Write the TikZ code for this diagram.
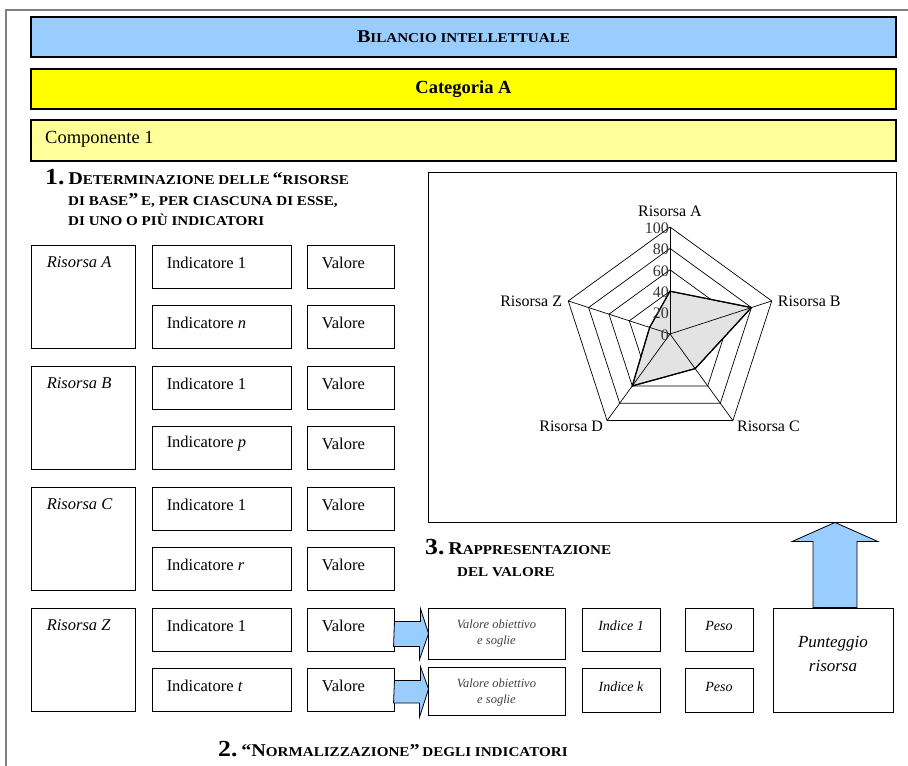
\documentclass[tikz,border=0pt]{standalone}
\usepackage{fontspec}
\setmainfont{Liberation Serif}
\newfontfamily\scfont[FakeStretch=1.12,Ligatures=TeX]{Liberation Serif}
\usetikzlibrary{calc,fit}
\definecolor{barblue}{HTML}{99CCFF}
\definecolor{baryellow}{HTML}{FFFF00}
\definecolor{paleyellow}{HTML}{FFFF99}
\definecolor{framegray}{HTML}{808080}
\definecolor{radargray}{HTML}{E3E3E3}
\tikzset{
  bar/.style={draw=black, line width=1.3pt, inner sep=0pt},
  box/.style={draw=black, line width=0.9pt, inner sep=0pt, fill=white},
  txt/.style={inner sep=0pt, font=\fontsize{16.5}{18}\selectfont},
  itxt/.style={inner sep=0pt, font=\fontsize{16.5}{18}\selectfont\itshape},
  stxt/.style={inner sep=0pt, font=\fontsize{14}{16}\selectfont\itshape},
  head/.style={inner sep=0pt, anchor=base west, font=\scfont\bfseries},
  blockarrow/.style={draw=black, line width=0.8pt, fill=barblue, line join=miter},
  ring/.style={draw=black, line width=0.7pt},
  axlbl/.style={inner sep=0pt, font=\fontsize{16}{18}\selectfont},
}
\newcommand{\bigc}[1]{{\fontsize{18}{20}\selectfont #1}}
\newcommand{\smc}[1]{{\fontsize{13.5}{15}\selectfont #1}}
\newcommand{\numc}[1]{{\fontsize{23}{24}\selectfont #1}}
\begin{document}
\begin{tikzpicture}[x=1pt,y=-1pt]
\useasboundingbox (0,0) rectangle (908,766);
% outer frame
\draw[framegray, line width=1.5pt] (6,766) -- (6,10) -- (908,10);

% header bars
\node[bar, fill=barblue, fit={(31,17) (896,57)}] (title) {};
\node[inner sep=0pt, font=\scfont\bfseries] (titletxt) at (title.center) {\bigc{B}\smc{ILANCIO INTELLETTUALE}};
\node[bar, fill=baryellow, fit={(31,69) (896,109)}] (cat) {};
\node[inner sep=0pt, font=\fontsize{18.5}{20}\selectfont\bfseries] (cattxt) at (cat.center) {Categoria A};
\node[bar, fill=paleyellow, fit={(31,120) (896,161)}] (comp) {};
\node[inner sep=0pt, anchor=west, font=\fontsize{18.5}{20}\selectfont] (comptxt) at (45,139) {Componente 1};

% heading 1
\node[head] (h1a) at (45,184) {\numc{1.} \bigc{D}\smc{ETERMINAZIONE DELLE} \bigc{“}\smc{RISORSE}};
\node[head] (h1b) at (68,205) {\smc{DI BASE}\bigc{”} \smc{E, PER CIASCUNA DI ESSE,}};
\node[head] (h1c) at (68,225) {\smc{DI UNO O PIÙ INDICATORI}};

% left column
\foreach \n/\t/\r/\k in {A/245/A/n, B/366/B/p, C/487/C/r, Z/608/Z/t}{
  \node[box, fit={(31,\t) (135,\t+103)}] (ris\n) {};
  \node[itxt, anchor=west] (ristxt\n) at ($(ris\n.north west)+(16,18)$) {Risorsa \r};
  \node[box, fit={(152,\t) (291,\t+43)}] (ind\n1) {};
  \node[txt, anchor=west] (indtxt\n1) at ($(ind\n1.north west)+(15,18)$) {Indicatore 1};
  \node[box, fit={(307,\t) (394,\t+43)}] (val\n1) {};
  \node[txt, anchor=west] (valtxt\n1) at ($(val\n1.north west)+(15,18)$) {Valore};
  \node[box, fit={(152,\t+60) (291,\t+103)}] (ind\n2) {};
  \node[txt, anchor=west] (indtxt\n2) at ($(ind\n2.north west)+(15,18)$) {Indicatore \textit{\k}};
  \node[box, fit={(307,\t+60) (394,\t+103)}] (val\n2) {};
  \node[txt, anchor=west] (valtxt\n2) at ($(val\n2.north west)+(15,18)$) {Valore};
}

% normalisation boxes
\node[box, fit={(428,608) (565,659)}] (obj1) {};
\node[inner sep=0pt, align=center, text=black!75, font=\fontsize{12.5}{16}\selectfont\itshape] (objtxt1) at ($(obj1.north)+(0,26)$) {Valore obiettivo\\e soglie};
\node[box, fit={(428,667) (565,715)}] (obj2) {};
\node[inner sep=0pt, align=center, text=black!75, font=\fontsize{12.5}{16}\selectfont\itshape] (objtxt2) at ($(obj2.north)+(0,26)$) {Valore obiettivo\\e soglie};
\node[box, fit={(582,608) (660,651)}] (idx1) {};
\node[stxt] (idxtxt1) at ($(idx1.north)+(0,18)$) {Indice 1};
\node[box, fit={(582,668) (660,712)}] (idx2) {};
\node[stxt] (idxtxt2) at ($(idx2.north)+(0,19)$) {Indice \textit{k}};
\node[box, fit={(685,608) (753,651)}] (peso1) {};
\node[stxt] (pesotxt1) at ($(peso1.north)+(0,18)$) {Peso};
\node[box, fit={(685,668) (753,712)}] (peso2) {};
\node[stxt] (pesotxt2) at ($(peso2.north)+(0,19)$) {Peso};
\node[box, fit={(773,608) (893,712)}] (punt) {};
\node[inner sep=0pt, align=center, font=\fontsize{17}{24}\selectfont\itshape] (punttxt) at ($(punt.center)+(0,-6)$) {Punteggio\\risorsa};

% right block arrows
\draw[blockarrow] ($(valZ1.east)+(0,-8)$) -- ++(26,0) -- ++(0,-13) -- ($(obj1.west)+(1,0)$) -- ++(-9,26) -- ++(0,-13) -- ++(-26,0) -- cycle;
\draw[blockarrow] ($(valZ2.east)+(0,-9)$) -- ++(26,0) -- ++(0,-14) -- ($(obj2.west)+(1,-2)$) -- ++(-9,28) -- ++(0,-14) -- ++(-26,0) -- cycle;

% heading 3
\node[head] (h3a) at (425,554) {\numc{3.} \bigc{R}\smc{APPRESENTAZIONE}};
\node[head] (h3b) at (457,576) {\smc{DEL VALORE}};

% heading 2
\node[head] (h2) at (218,756) {\numc{2.} \bigc{“N}\smc{ORMALIZZAZIONE}\bigc{”} \smc{DEGLI INDICATORI}};

% chart box
\node[box, fit={(428,172) (896,522)}] (chart) {};

% big up arrow
\coordinate (ptop) at ($(punt.north)+(2,0)$);
\coordinate (ctip) at (ptop |- chart.south);
\draw[blockarrow] ($(ptop)+(-22,0)$) -- ($(ptop)+(-22,-66)$) -- ($(ptop)+(-43,-66)$) -- (ctip) -- ($(ptop)+(43,-66)$) -- ($(ptop)+(22,-66)$) -- ($(ptop)+(22,0)$) -- cycle;

% radar chart
\begin{scope}[shift={(670,334)}]
  \coordinate (rc) at (0,0);
  \foreach \k in {1,...,5}{
    \draw[ring] (-90:21.4*\k) -- (-18:21.4*\k) -- (54:21.4*\k) -- (126:21.4*\k) -- (198:21.4*\k) -- cycle;
  }
  \draw[black, line width=1.1pt, fill=radargray] (-90:42.8) -- (-18:85.6) -- (54:42.8) -- (126:64.2) -- (198:21.4) -- cycle;
  \foreach \a in {-90,-18,54,126,198}{
    \draw[ring] (rc) -- (\a:107);
  }
  \draw[black, line width=1.1pt] (-90:42.8) -- (-18:85.6) -- (54:42.8) -- (126:64.2) -- (198:21.4) -- cycle;
  \foreach \v in {0,20,40,60,80,100}{
    \node[axlbl, anchor=east, text=black!80] (ax\v) at (-1,-1.07*\v+1) {\v};
  }
  \node[axlbl, anchor=south] (rlA) at (0,-117) {Risorsa A};
  \node[axlbl, anchor=west] (rlB) at ($(-18:107)+(6,0)$) {Risorsa B};
  \node[axlbl, anchor=west] (rlC) at ($(54:107)+(4,6)$) {Risorsa C};
  \node[axlbl, anchor=east] (rlD) at ($(126:107)+(-4,6)$) {Risorsa D};
  \node[axlbl, anchor=east] (rlZ) at ($(198:107)+(-6,0)$) {Risorsa Z};
\end{scope}
\end{tikzpicture}
\end{document}
